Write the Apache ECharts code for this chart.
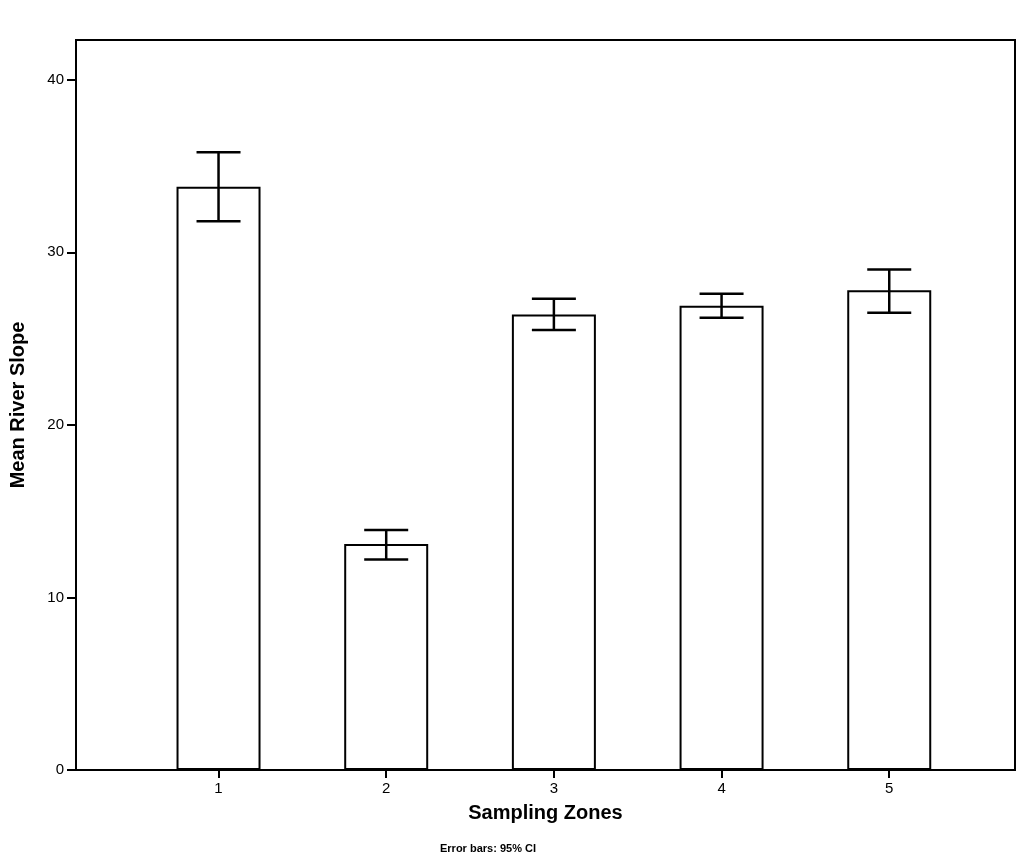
<!DOCTYPE html>
<html>
<head>
<meta charset="utf-8">
<title>Mean River Slope</title>
<script src="https://cdn.jsdelivr.net/npm/echarts@6/dist/echarts.min.js"></script>
<style>
  html, body { margin: 0; padding: 0; background: #fff; }
  #main { width: 1029px; height: 866px; }
</style>
</head>
<body>
<div id="main"></div>
<script>
// data
var zones = [1, 2, 3, 4, 5];
var meanSlope = [33.8, 13.1, 26.4, 26.9, 27.8];
var ciLow = [31.8, 12.2, 25.5, 26.2, 26.5];
var ciHigh = [35.8, 13.9, 27.3, 27.6, 29.0];
var yTicks = [0, 10, 20, 30, 40];

var chart = echarts.init(document.getElementById('main'));

var barData = zones.map(function (z, i) { return [z, meanSlope[i]]; });
var errData = zones.map(function (z, i) { return [z, ciLow[i], ciHigh[i]]; });

var option = {
    backgroundColor: '#fff',
    animation: false,
    textStyle: { fontFamily: 'Liberation Sans, Arial, sans-serif', color: '#000' },
    grid: {
        left: 75,
        right: 14,
        top: 40,
        bottom: 96,
        show: true,
        borderColor: '#000',
        borderWidth: 2,
        backgroundColor: 'transparent'
    },
    xAxis: {
        type: 'value',
        min: 0.15,
        max: 5.75,
        splitLine: { show: false },
        axisLine: { show: true, onZero: false, lineStyle: { color: '#000', width: 2 } },
        axisTick: { show: true, length: 8, lineStyle: { color: '#000', width: 2 }, customValues: zones },
        axisLabel: { color: '#000', fontSize: 15, margin: 11, customValues: zones },
        name: 'Sampling Zones',
        nameLocation: 'middle',
        nameGap: 33,
        nameTextStyle: { fontSize: 20, fontWeight: 'bold', color: '#000' }
    },
    yAxis: {
        type: 'value',
        min: 0,
        max: 42.3,
        splitLine: { show: false },
        axisLine: { show: true, lineStyle: { color: '#000', width: 2 } },
        axisTick: { show: true, length: 9, lineStyle: { color: '#000', width: 2 }, customValues: yTicks },
        axisLabel: { color: '#000', fontSize: 15, margin: 12, customValues: yTicks },
        name: 'Mean River Slope',
        nameLocation: 'middle',
        nameGap: 48,
        nameTextStyle: { fontSize: 20, fontWeight: 'bold', color: '#000' }
    },
    graphic: [{
        type: 'text',
        left: 440,
        top: 843,
        style: { text: 'Error bars: 95% CI', fontSize: 11, fontWeight: 'bold', fill: '#000', fontFamily: 'Liberation Sans, Arial, sans-serif' }
    }],
    series: [
        {
            type: 'bar',
            data: barData,
            barWidth: 84,
            itemStyle: { color: '#fff', borderColor: '#000', borderWidth: 2 }
        },
        {
            type: 'custom',
            data: errData,
            z: 10,
            renderItem: function (params, api) {
                var x = api.value(0);
                var lo = api.coord([x, api.value(1)]);
                var hi = api.coord([x, api.value(2)]);
                var half = 22;
                var st = { stroke: '#000', lineWidth: 2.5 };
                return {
                    type: 'group',
                    children: [
                        { type: 'line', shape: { x1: lo[0], y1: lo[1], x2: hi[0], y2: hi[1] }, style: st },
                        { type: 'line', shape: { x1: hi[0] - half, y1: hi[1], x2: hi[0] + half, y2: hi[1] }, style: st },
                        { type: 'line', shape: { x1: lo[0] - half, y1: lo[1], x2: lo[0] + half, y2: lo[1] }, style: st }
                    ]
                };
            }
        }
    ]
};

option && chart.setOption(option);
</script>
</body>
</html>
